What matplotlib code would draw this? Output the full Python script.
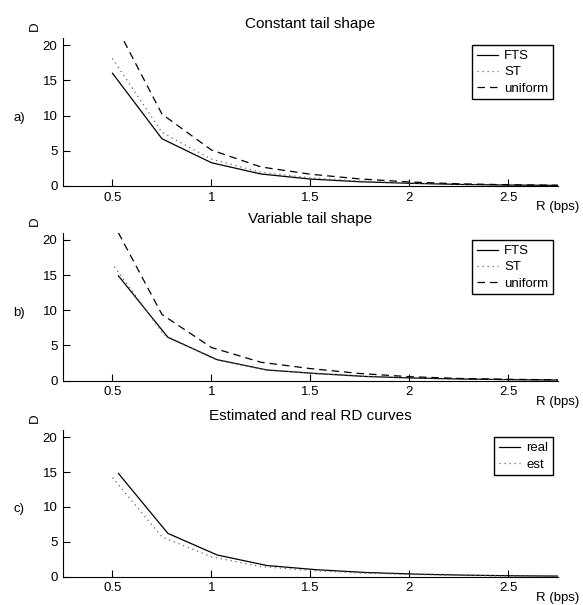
import matplotlib
matplotlib.use('Agg')
import matplotlib.pyplot as plt

plt.rcParams['font.family'] = ['Liberation Sans', 'DejaVu Sans']

# rates (bps)
r_grid = [0.5, 0.75, 1.0, 1.25, 1.5, 1.75, 2.0, 2.25, 2.5, 2.75]
r_shift = [0.53, 0.78, 1.03, 1.28, 1.53, 1.78, 2.03, 2.28, 2.53, 2.78]
r_st_b = [0.51, 0.76, 1.01, 1.26, 1.51, 1.76, 2.01, 2.26, 2.51, 2.76]

# a) constant tail shape
fts_a = [16.0, 6.7, 3.3, 1.7, 0.98, 0.6, 0.38, 0.22, 0.13, 0.08]
st_a = [18.1, 7.6, 3.8, 1.95, 1.15, 0.7, 0.42, 0.25, 0.15, 0.09]
uni_a = [23.7, 10.2, 5.1, 2.7, 1.67, 1.0, 0.57, 0.3, 0.18, 0.1]

# b) variable tail shape
fts_b = [14.9, 6.15, 2.95, 1.5, 1.0, 0.58, 0.35, 0.21, 0.12, 0.07]
st_b = [16.2, 6.5, 3.1, 1.6, 1.02, 0.6, 0.36, 0.22, 0.13, 0.08]
uni_b = [22.6, 9.4, 4.7, 2.6, 1.7, 1.0, 0.55, 0.3, 0.18, 0.1]

# c) estimated vs real
real_c = [14.8, 6.2, 3.1, 1.6, 1.0, 0.6, 0.37, 0.22, 0.13, 0.08]
est_c = [14.2, 5.7, 2.85, 1.45, 0.88, 0.53, 0.32, 0.19, 0.11, 0.07]

xticks = [0.5, 1, 1.5, 2, 2.5]
xticklabels = ['0.5', '1', '1.5', '2', '2.5']
yticks = [0, 5, 10, 15, 20]

solid = dict(color='black', lw=0.9, linestyle='-')
dotted = dict(color='0.4', lw=0.9, linestyle=(0, (1, 3)))
dashed = dict(color='black', lw=0.9, linestyle=(0, (6, 4)))

fig = plt.figure(figsize=(5.83, 6.05), dpi=100)

boxes = [[0.108, 0.6926, 0.849, 0.2446],
         [0.108, 0.371, 0.849, 0.244],
         [0.108, 0.0468, 0.849, 0.2422]]
titles = ['Constant tail shape', 'Variable tail shape', 'Estimated and real RD curves']
tags = ['a)', 'b)', 'c)']


def style(ax, title, tag):
    ax.set_xlim(0.25, 2.75)
    ax.set_ylim(0, 21)
    ax.spines['top'].set_visible(False)
    ax.spines['right'].set_visible(False)
    ax.set_xticks(xticks)
    ax.set_xticklabels(xticklabels)
    ax.set_yticks(yticks)
    ax.tick_params(direction='in', length=5, width=0.8, labelsize=9.5, pad=4)
    ax.set_title(title, fontsize=11, pad=7)
    ax.text(-0.057, 1.08, 'D', rotation=90, transform=ax.transAxes,
            ha='center', va='center', fontsize=9.5)
    ax.text(-0.088, 0.46, tag, transform=ax.transAxes,
            ha='center', va='center', fontsize=9.5)
    ax.text(1.0, -0.145, 'R (bps)', transform=ax.transAxes,
            ha='center', va='center', fontsize=9.5)


def add_legend(ax):
    ax.legend(loc='upper right', bbox_to_anchor=(0.99, 0.95), fontsize=9.5,
              fancybox=False, edgecolor='black', framealpha=1, handlelength=1.6,
              borderpad=0.35, labelspacing=0.3, handletextpad=0.5,
              borderaxespad=0)


ax = fig.add_axes(boxes[0])
ax.plot(r_grid, fts_a, label='FTS', **solid)
ax.plot(r_grid, st_a, label='ST', **dotted)
ax.plot(r_grid, uni_a, label='uniform', **dashed)
style(ax, titles[0], tags[0])
add_legend(ax)

ax = fig.add_axes(boxes[1])
ax.plot(r_shift, fts_b, label='FTS', **solid)
ax.plot(r_st_b, st_b, label='ST', **dotted)
ax.plot(r_grid, uni_b, label='uniform', **dashed)
style(ax, titles[1], tags[1])
add_legend(ax)

ax = fig.add_axes(boxes[2])
ax.plot(r_shift, real_c, label='real', **solid)
ax.plot(r_grid, est_c, label='est', **dotted)
style(ax, titles[2], tags[2])
add_legend(ax)

fig.savefig('out.png', dpi=100)
